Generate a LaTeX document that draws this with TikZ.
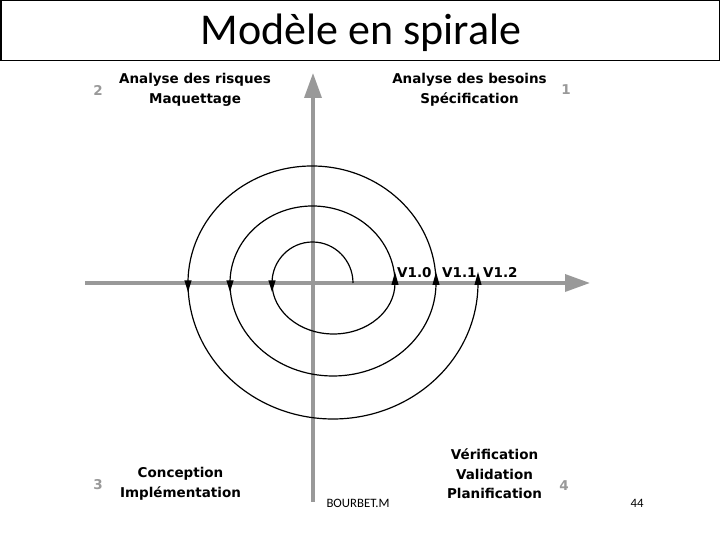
\documentclass[tikz,border=0pt]{standalone}
\usepackage{fontspec}
\setmainfont{Carlito}
\newfontfamily\labfont{DejaVu Sans}
\usetikzlibrary{arrows.meta}
\definecolor{axisgray}{HTML}{999999}
\tikzset{
  axisline/.style={draw=axisgray, line width=3.5pt, -{Triangle[length=25pt,width=17pt]}},
  spiralline/.style={draw=black, line width=1.2pt},
  tipmark/.style={fill=black},
  phase/.style={font=\labfont\bfseries\fontsize{13.5}{19.5}\selectfont, align=center, inner sep=0pt},
  quadnum/.style={font=\labfont\bfseries\fontsize{13.5}{16}\selectfont, text=axisgray, inner sep=0pt},
  version/.style={font=\labfont\bfseries\fontsize{13.5}{16}\selectfont, anchor=base west, inner sep=0pt},
  footer/.style={font=\fontsize{12.8}{14}\selectfont, inner sep=0pt}
}
\begin{document}
\begin{tikzpicture}[x=1pt,y=1pt]
\useasboundingbox (0,0) rectangle (720,540);
% title box
\draw[line width=1.5pt] (0.75,479.5) rectangle (719.25,539.5);
\node[font=\fontsize{44}{50}\selectfont, inner sep=0pt] (title) at (361,507) {Modèle en spirale};
% axes
\coordinate (hstart) at (85,257);
\coordinate (hend) at (590,257);
\coordinate (vstart) at (313,38);
\coordinate (vend) at (313,467);
\draw[axisline] (hstart) -- (hend);
\draw[axisline] (vstart) -- (vend);
% spiral
\coordinate (s0) at (353,257);
\draw[spiralline] (s0)
  arc[start angle=0, end angle=180, x radius=40.5, y radius=41]
  arc[start angle=180, end angle=360, x radius=61.5, y radius=51]
  arc[start angle=0, end angle=180, x radius=82.5, y radius=77]
  arc[start angle=180, end angle=360, x radius=103, y radius=93]
  arc[start angle=0, end angle=180, x radius=124, y radius=117]
  arc[start angle=180, end angle=360, x radius=145, y radius=136];
% arrowheads on spiral
\foreach \ax in {395,436,478}{
  \fill[tipmark] (\ax,268) -- (\ax-3.6,255) -- (\ax+3.6,255) -- cycle;
}
\foreach \ax in {188,230,272}{
  \fill[tipmark] (\ax,248) -- (\ax-3.6,259.5) -- (\ax+3.6,259.5) -- cycle;
}
% version labels
\node[version] (v10) at (397,262) {V1.0};
\node[version] (v11) at (442,262) {V1.1};
\node[version] (v12) at (483,262) {V1.2};
% quadrant labels
\node[phase] (q2) at (195,450) {Analyse des risques\\Maquettage};
\node[phase] (q1) at (469.5,450) {Analyse des besoins\\Spécification};
\node[phase] (q3) at (180.5,56) {Conception\\Implémentation};
\node[phase] (q4) at (494.5,66) {Vérification\\Validation\\Planification};
\node[quadnum] (n2) at (98,450) {2};
\node[quadnum] (n1) at (566,450) {1};
\node[quadnum] (n3) at (98,55) {3};
\node[quadnum] (n4) at (564,54) {4};
% footer
\node[footer] (author) at (358,37) {BOURBET.M};
\node[footer] (page) at (637,37) {44};
\end{tikzpicture}
\end{document}
